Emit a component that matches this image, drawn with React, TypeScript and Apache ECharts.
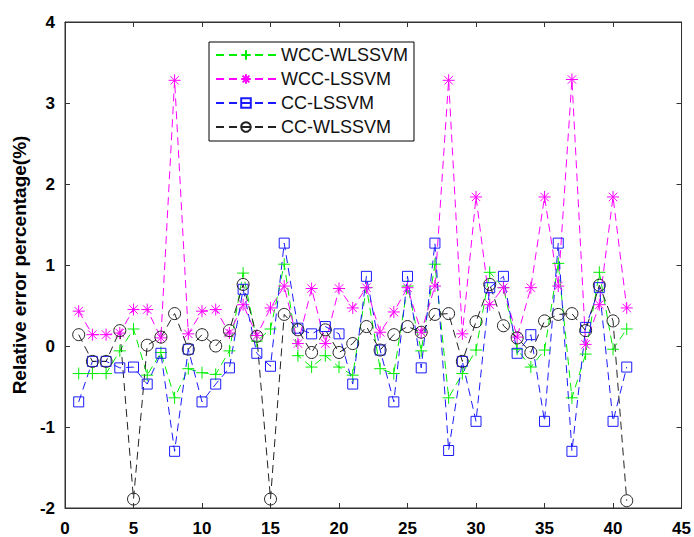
import React, { useEffect, useRef } from "react";
import * as echarts from "echarts";

const xs: number[] = Array.from({ length: 41 }, (_, i) => i + 1);

const wccWlssvm: number[] = [-0.34, -0.34, -0.34, -0.06, 0.21, -0.36, -0.08, -0.64, -0.28, -0.33, -0.35, -0.06, 0.9, 0.06, 0.21, 1.01, -0.12, -0.26, -0.12, -0.26, -0.36, 0.72, -0.28, -0.34, 0.74, -0.06, 1.01, -0.64, -0.34, -0.05, 0.91, 0.72, -0.04, -0.26, -0.05, 1.02, -0.64, -0.1, 0.91, -0.04, 0.21];
const wccLssvm: number[] = [0.43, 0.14, 0.14, 0.16, 0.45, 0.45, 0.1, 3.28, 0.15, 0.43, 0.45, 0.16, 0.51, 0.13, 0.47, 0.74, 0.03, 0.71, 0.03, 0.71, 0.47, 0.72, 0.17, 0.42, 0.72, 0.17, 0.74, 3.28, 0.15, 1.84, 0.51, 0.72, 0.11, 0.72, 1.84, 0.74, 3.29, 0.02, 0.51, 1.84, 0.47];
const ccLssvm: number[] = [-0.69, -0.19, -0.19, -0.27, -0.26, -0.47, -0.09, -1.3, -0.04, -0.69, -0.47, -0.27, 0.7, -0.09, -0.25, 1.27, 0.22, 0.15, 0.24, 0.15, -0.47, 0.86, -0.05, -0.69, 0.86, -0.27, 1.27, -1.29, -0.19, -0.93, 0.72, 0.86, -0.09, 0.14, -0.93, 1.27, -1.3, 0.23, 0.72, -0.93, -0.26];
const ccWlssvm: number[] = [0.14, -0.19, -0.19, 0.19, -1.89, 0.01, 0.11, 0.4, -0.04, 0.14, 0.0, 0.19, 0.76, 0.12, -1.89, 0.39, 0.2, -0.08, 0.2, -0.08, 0.03, 0.24, -0.05, 0.14, 0.24, 0.17, 0.39, 0.4, -0.19, 0.3, 0.76, 0.25, 0.1, -0.08, 0.31, 0.39, 0.4, 0.19, 0.75, 0.31, -1.91];

const seriesNames: string[] = ["WCC-WLSSVM", "WCC-LSSVM", "CC-LSSVM", "CC-WLSSVM"];
const yAxisTitle = "Relative error percentage(%)";

const FONT = "'Liberation Sans', Arial, sans-serif";

const PLUS = "path://M5,0L5,10M0,5L10,5";
const STAR = "path://M5,0L5,10M0,5L10,5M1.5,1.5L8.5,8.5M1.5,8.5L8.5,1.5";

function mk(name: string, data: number[], color: string, symbol: string, size: number) {
  return {
    name,
    type: "line",
    data: xs.map((x, i) => [x, data[i]]),
    symbol,
    symbolSize: size,
    showSymbol: true,
    lineStyle: { color, width: 1, type: [8, 5] },
    itemStyle: { color: "transparent", borderColor: color, borderWidth: 1 },
    emphasis: { disabled: true },
  };
}

export default function App() {
  const ref = useRef<HTMLDivElement>(null);
  useEffect(() => {
    document.body.style.margin = "0";
    const chart = echarts.init(ref.current!, null, { renderer: "svg" });
    const axisLabel = { fontFamily: FONT, fontSize: 17, fontWeight: "bold", color: "#000" };
    const axisLine = { show: true, onZero: false, lineStyle: { color: "#333", width: 1 } };
    const axisTick = { show: true, inside: true, length: 5, lineStyle: { color: "#333" } };
    chart.setOption({
      animation: false,
      backgroundColor: "#fff",
      grid: { left: 65, right: 10, top: 22, bottom: 29, show: true, borderColor: "#333", borderWidth: 1, backgroundColor: "transparent" },
      legend: {
        orient: "vertical",
        left: 209,
        top: 42,
        backgroundColor: "#fff",
        borderColor: "#000",
        borderWidth: 1,
        padding: [4, 6, 5, 6],
        itemWidth: 60,
        itemHeight: 12,
        itemGap: 6,
        textStyle: { fontFamily: FONT, fontSize: 18, color: "#111" },
        data: seriesNames,
      },
      xAxis: [
        {
          type: "value",
          min: 0,
          max: 45,
          interval: 5,
          axisLine,
          axisTick,
          splitLine: { show: false },
          axisLabel: { ...axisLabel, margin: 12 },
        },
        {
          type: "value",
          position: "top",
          min: 0,
          max: 45,
          interval: 5,
          axisLine,
          axisTick,
          splitLine: { show: false },
          axisLabel: { show: false },
        },
      ],
      yAxis: [
        {
          type: "value",
          min: -2,
          max: 4,
          interval: 1,
          axisLine,
          axisTick,
          splitLine: { show: false },
          axisLabel: { ...axisLabel, margin: 10 },
          name: yAxisTitle,
          nameLocation: "middle",
          nameGap: 35,
          nameTextStyle: { fontFamily: FONT, fontSize: 19, fontWeight: "bold", color: "#000" },
        },
        {
          type: "value",
          position: "right",
          min: -2,
          max: 4,
          interval: 1,
          axisLine,
          axisTick,
          splitLine: { show: false },
          axisLabel: { show: false },
        },
      ],
      series: [
        mk(seriesNames[0], wccWlssvm, "#00ee00", PLUS, 12),
        mk(seriesNames[1], wccLssvm, "#ff00ff", STAR, 12),
        mk(seriesNames[2], ccLssvm, "#1a1aff", "rect", 10),
        mk(seriesNames[3], ccWlssvm, "#222222", "circle", 12),
        {
          name: "_frame",
          type: "line",
          xAxisIndex: 1,
          yAxisIndex: 1,
          data: [],
          silent: true,
          showSymbol: false,
        },
      ],
    });
    return () => chart.dispose();
  }, []);
  return <div ref={ref} style={{ width: 694, height: 537 }} />;
}
